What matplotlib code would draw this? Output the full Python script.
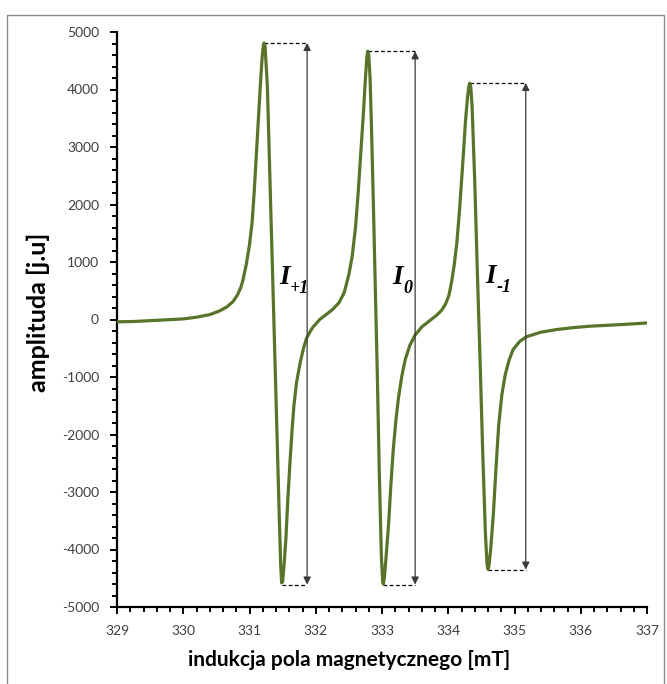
import matplotlib
matplotlib.use("Agg")
import matplotlib.pyplot as plt
from matplotlib.ticker import MultipleLocator
from matplotlib.patches import Rectangle

# spectrum (field [mT], amplitude [j.u])
field = [329.00, 329.25, 329.50, 329.75, 330.00, 330.20, 330.40, 330.55, 330.66, 330.75,
         330.82, 330.87, 330.90, 330.95, 331.00, 331.04, 331.07, 331.10, 331.13, 331.16,
         331.19, 331.21, 331.22, 331.235, 331.25, 331.27, 331.30, 331.33, 331.36, 331.39,
         331.42, 331.45, 331.47, 331.485, 331.50, 331.52, 331.55, 331.58, 331.61, 331.64,
         331.67, 331.71, 331.76, 331.81, 331.86, 331.92, 331.96, 332.06, 332.15, 332.25,
         332.35, 332.43, 332.50, 332.55, 332.60, 332.64, 332.68, 332.72, 332.75, 332.77,
         332.785, 332.80, 332.82, 332.84, 332.87, 332.90, 332.93, 332.96, 332.99, 333.01,
         333.02, 333.035, 333.06, 333.10, 333.13, 333.17, 333.21, 333.25, 333.30, 333.35,
         333.42, 333.50, 333.60, 333.72, 333.82, 333.90, 333.96, 334.01, 334.05, 334.09,
         334.13, 334.17, 334.20, 334.23, 334.26, 334.29, 334.31, 334.325, 334.34, 334.36,
         334.40, 334.44, 334.48, 334.52, 334.56, 334.585, 334.60, 334.615, 334.64, 334.68,
         334.72, 334.76, 334.81, 334.86, 334.92, 334.98, 335.08, 335.18, 335.40, 335.64,
         335.90, 336.14, 336.50, 336.80, 337.00]
amplitude = [-40, -35, -20, -5, 10, 40, 85, 150, 220, 310,
             430, 560, 680, 950, 1300, 1700, 2200, 2800, 3400, 4000,
             4550, 4770, 4810, 4760, 4450, 4050, 2800, 1550, 320, -950,
             -2200, -3450, -4250, -4580, -4560, -4300, -3800, -3100, -2500, -1965,
             -1500, -1096, -780, -522, -330, -200, -130, 0, 80, 170,
             290, 470, 780, 1100, 1600, 2200, 2900, 3600, 4200, 4550,
             4665, 4600, 4200, 3400, 2000, 500, -1000, -2700, -4100, -4550,
             -4600, -4500, -4150, -3550, -2950, -2261, -1750, -1350, -980, -700,
             -450, -270, -130, -20, 70, 160, 270, 420, 650, 950,
             1339, 1900, 2400, 2900, 3450, 3850, 4050, 4110, 4050, 3700,
             2400, 800, -700, -2300, -3700, -4250, -4345, -4280, -4000, -3400,
             -2600, -1855, -1300, -960, -700, -520, -380, -300, -220, -174,
             -140, -116, -95, -75, -60]

# peak-to-peak markers
peak_x = [331.22, 332.785, 334.325]
min_x = [331.485, 333.02, 334.60]
top_y = [4810, 4665, 4115]
bottom_y = [-4610, -4610, -4350]
arrow_x = [331.87, 333.50, 335.17]
label_main = ["I", "I", "I"]
label_sub = ["+1", "0", "-1"]
label_x = [331.61, 333.32, 334.72]
label_y = [610, 610, 630]

xticks = list(range(329, 338))
yticks = list(range(-5000, 5001, 1000))

plt.rcParams["axes.unicode_minus"] = False

fig = plt.figure(figsize=(6.67, 6.84), dpi=100)
fig.patches.append(Rectangle((7 / 667, -0.01), (664 - 7) / 667, 1 - 15 / 684 + 0.01,
                             transform=fig.transFigure, fill=False,
                             edgecolor="#8c8c8c", linewidth=1.0))
ax = fig.add_axes([117 / 667, 1 - 607 / 684, (647 - 117) / 667, (607 - 32) / 684])

ax.plot(field, amplitude, color="#56752a", linewidth=2.3, solid_joinstyle="round",
        solid_capstyle="round", zorder=3)

for px, mx, ty, by, axx in zip(peak_x, min_x, top_y, bottom_y, arrow_x):
    ax.plot([px, axx], [ty, ty], color="black", linestyle=(0, (3, 2)), linewidth=0.9)
    ax.plot([mx, axx], [by, by], color="black", linestyle=(0, (3, 2)), linewidth=0.9)
    ax.annotate("", xy=(axx, ty), xytext=(axx, by),
                arrowprops=dict(arrowstyle="<|-|>", color="#3a3a3a", lw=0.9,
                                mutation_scale=11, shrinkA=0, shrinkB=0))

for m, s, lx, ly in zip(label_main, label_sub, label_x, label_y):
    ax.text(lx, ly, m, fontsize=19.5, ha="right", va="baseline", color="black",
            family="Liberation Serif", style="italic", fontweight="bold")
    ax.annotate(s, xy=(lx, ly), xytext=(0.3, -6.5), textcoords="offset points",
                fontsize=13, ha="left", va="baseline", color="black",
                family="Liberation Serif", style="italic", fontweight="bold")

ax.set_xlim(329, 337)
ax.set_ylim(-5000, 5000)
ax.set_xticks(xticks)
ax.set_yticks(yticks)
ax.xaxis.set_minor_locator(MultipleLocator(0.2))
ax.yaxis.set_minor_locator(MultipleLocator(200))
for s in ["top", "right"]:
    ax.spines[s].set_visible(False)
for s in ["left", "bottom"]:
    ax.spines[s].set_linewidth(1.6)
ax.tick_params(which="major", direction="out", length=5, width=1.4, colors="black",
               labelcolor="#404040", labelsize=10, pad=8)
ax.tick_params(which="minor", direction="out", length=3.5, width=1.4, colors="black")
for lab in ax.get_xticklabels() + ax.get_yticklabels():
    lab.set_fontfamily("Lato")

fig.text(38 / 667, 1 - 312 / 684, "amplituda [j.u]", rotation=90, ha="center", va="center",
         fontsize=18, fontweight="bold", family="Lato")
fig.text(349 / 667, 1 - 660 / 684, "indukcja pola magnetycznego [mT]", ha="center",
         va="center", fontsize=15, fontweight="bold", family="Lato")

fig.savefig("out.png", dpi=100)
